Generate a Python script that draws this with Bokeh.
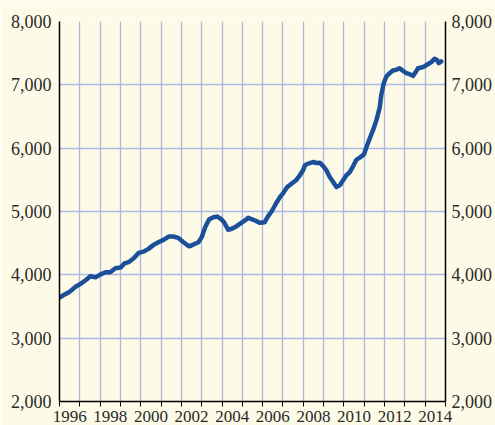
from bokeh.plotting import figure
from bokeh.models import Range1d, LinearAxis, FixedTicker, NumeralTickFormatter
from bokeh.embed import file_html
from bokeh.resources import INLINE

# decimal year of each reading and value
years = [1996.00, 1996.25, 1996.46, 1996.79, 1997.00, 1997.30, 1997.52, 1997.77,
         1998.00, 1998.26, 1998.50, 1998.75, 1999.00, 1999.20, 1999.40, 1999.65,
         1999.90, 2000.14, 2000.38, 2000.63, 2000.87, 2001.12, 2001.37, 2001.60,
         2001.85, 2002.10, 2002.38, 2002.59, 2002.84, 2003.00, 2003.17, 2003.36,
         2003.57, 2003.77, 2003.94, 2004.10, 2004.30, 2004.48, 2004.72, 2004.93,
         2005.13, 2005.29, 2005.45, 2005.62, 2005.87, 2006.10, 2006.27, 2006.44,
         2006.65, 2006.85, 2007.01, 2007.21, 2007.42, 2007.67, 2007.83, 2007.99,
         2008.08, 2008.24, 2008.48, 2008.65, 2008.81, 2008.98, 2009.14, 2009.30,
         2009.47, 2009.63, 2009.80, 2009.96, 2010.12, 2010.29, 2010.45, 2010.62,
         2010.78, 2010.99, 2011.11, 2011.27, 2011.43, 2011.60, 2011.76, 2011.84,
         2011.96, 2012.09, 2012.25, 2012.41, 2012.58, 2012.74, 2012.90, 2013.07,
         2013.23, 2013.40, 2013.53, 2013.65, 2013.81, 2013.97, 2014.13, 2014.30,
         2014.46, 2014.57, 2014.67, 2014.79]
values = [3640, 3690, 3723, 3813, 3850, 3919, 3977, 3960,
          4003, 4040, 4040, 4103, 4115, 4180, 4200, 4262,
          4347, 4367, 4410, 4473, 4515, 4552, 4605, 4605,
          4584, 4515, 4450, 4478, 4515, 4595, 4752, 4874,
          4910, 4921, 4885, 4831, 4711, 4727, 4768, 4815,
          4858, 4900, 4880, 4858, 4821, 4831, 4926, 5000,
          5122, 5227, 5291, 5386, 5439, 5503, 5571, 5650,
          5729, 5756, 5781, 5766, 5770, 5718, 5650, 5544,
          5465, 5386, 5413, 5492, 5571, 5623, 5713, 5820,
          5851, 5903, 6019, 6152, 6283, 6442, 6640, 6842,
          7025, 7131, 7184, 7226, 7237, 7263, 7222, 7184,
          7168, 7142, 7200, 7263, 7274, 7290, 7326, 7358,
          7412, 7396, 7342, 7369]

year_bounds = list(range(1996, 2016))
label_years = list(range(1996, 2015, 2))
y_ticks = [2000, 3000, 4000, 5000, 6000, 7000, 8000]

BG = "#FDFBE8"
GRID = "#AEB6E2"
LINE = "#1C4F9A"
FONT = "Liberation Serif"
TXT = "#2a2a2a"

p = figure(width=495, height=425, output_backend="svg", toolbar_location=None,
           x_range=Range1d(1996, 2015), y_range=Range1d(2000, 8000),
           background_fill_color=BG, border_fill_color=BG,
           min_border_left=59, min_border_right=49, min_border_top=21, min_border_bottom=24)
p.outline_line_color = None

p.line(years, values, line_color=LINE, line_width=4.5, line_join="round", line_cap="round")

# x axis
xt = FixedTicker(ticks=[y + 0.5 for y in label_years], minor_ticks=year_bounds)
xa = p.xaxis[0]
xa.ticker = xt
xa.major_label_overrides = {y + 0.5: str(y) for y in label_years}
xa.major_tick_out = 0
xa.major_tick_in = 0
xa.minor_tick_out = 5
xa.minor_tick_in = 0
xa.minor_tick_line_color = "black"
xa.axis_line_color = "black"
xa.axis_line_width = 1.5
xa.major_label_text_font = FONT
xa.major_label_text_font_size = "17px"
xa.major_label_text_color = TXT
xa.major_label_standoff = 4

p.xgrid.ticker = xt
p.xgrid.grid_line_color = None
p.xgrid.minor_grid_line_color = GRID
p.xgrid.minor_grid_line_width = 1.3

# y axes
yt = FixedTicker(ticks=y_ticks)
ya = p.yaxis[0]
ya.ticker = yt
ya.formatter = NumeralTickFormatter(format="0,0")
ya.major_tick_out = 0
ya.major_tick_in = 0
ya.minor_tick_line_color = None
ya.axis_line_color = "black"
ya.axis_line_width = 1.5
ya.major_label_text_font = FONT
ya.major_label_text_font_size = "18px"
ya.major_label_text_color = TXT
ya.major_label_standoff = 8

ra = LinearAxis(ticker=yt, formatter=NumeralTickFormatter(format="0,0"))
ra.major_tick_out = 0
ra.major_tick_in = 0
ra.minor_tick_line_color = None
ra.axis_line_color = "black"
ra.axis_line_width = 1.5
ra.major_label_text_font = FONT
ra.major_label_text_font_size = "18px"
ra.major_label_text_color = TXT
ra.major_label_standoff = 6
p.add_layout(ra, "right")

p.ygrid.ticker = yt
p.ygrid.grid_line_color = GRID
p.ygrid.grid_line_width = 1.3

html = file_html(p, INLINE)
html = html.replace("<body>", '<body style="background-color: %s;">' % BG, 1)
open("out.html", "w").write(html)
